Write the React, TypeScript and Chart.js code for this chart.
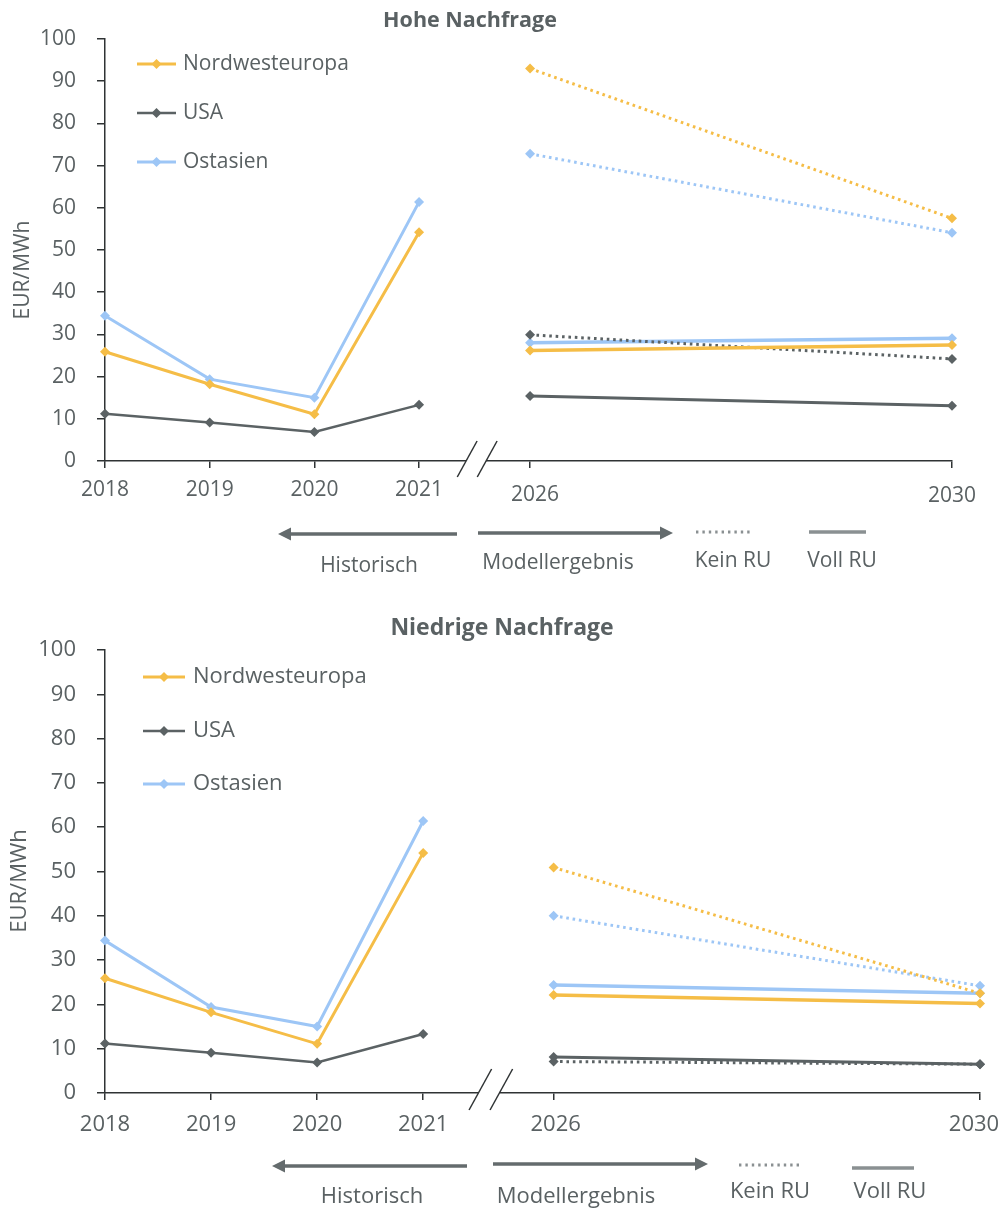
import { useEffect, useRef } from 'react';
import { Chart, registerables } from 'chart.js';

Chart.register(...registerables);

// ---- data -------------------------------------------------------------
const years = ['2018', '2019', '2020', '2021', '2026', '2030'];
const regions = ['Nordwesteuropa', 'USA', 'Ostasien'];

// historical prices 2018–2021 (EUR/MWh), identical in both scenarios
const nweHist = [25.9, 18.2, 11.1, 54.2];
const usaHist = [11.2, 9.1, 6.9, 13.3];
const ostHist = [34.4, 19.4, 15.0, 61.4];

// model results for 2026 and 2030 – high demand
const nweHighKein = [93.0, 57.5];
const usaHighKein = [29.9, 24.2];
const ostHighKein = [72.8, 54.1];
const nweHighVoll = [26.2, 27.5];
const usaHighVoll = [15.4, 13.1];
const ostHighVoll = [28.0, 29.1];

// model results for 2026 and 2030 – low demand
const nweLowKein = [50.9, 22.5];
const usaLowKein = [7.1, 6.5];
const ostLowKein = [40.0, 24.2];
const nweLowVoll = [22.1, 20.2];
const usaLowVoll = [8.1, 6.5];
const ostLowVoll = [24.4, 22.5];

const yTicks = [0, 10, 20, 30, 40, 50, 60, 70, 80, 90, 100];

// ---- styling ----------------------------------------------------------
const FONT = "'Open Sans', 'DejaVu Sans', sans-serif";
const TEXT = '#5a6163';
const AXIS = '#2f3334';
const ARROW = '#646b6d';
const KEY = '#8a9092';
const regionColors = ['#F5BD47', '#5B6264', '#9DC6F6'];
const regionWidths = [3, 2.5, 3];
const W = 1002;

type Xyz = [number, number, number];

interface Panel {
  title: string;
  kein: number[][];
  voll: number[][];
  height: number;
  font: number;
  titleFont: number;
  area: { top: number; bottom: number; right: number };
  slots: number[]; // horizontal slot of each year on the broken axis
  yearLabel: { y: number; dx: number[]; dy: number[] };
  titleAt: [number, number];
  yTitleAt: [number, number];
  legend: { x0: number; x1: number; textX: number; ys: number[] };
  slash: { gap: number; below: number; above: number; shift: number };
  histArrow: Xyz; // tail x, tip x, y
  modelArrow: Xyz;
  dottedKey: Xyz; // x0, x1, y
  solidKey: Xyz;
  notes: [string, number, number][];
}

const panels: Panel[] = [
  {
    title: 'Hohe Nachfrage',
    kein: [nweHighKein, usaHighKein, ostHighKein],
    voll: [nweHighVoll, usaHighVoll, ostHighVoll],
    height: 600,
    font: 21,
    titleFont: 21.5,
    area: { top: 39, bottom: 461, right: 952 },
    slots: [0, 1, 2, 3, 4.06, 8.09],
    yearLabel: { y: 29, dx: [0, 0, 0, 0, 5, 0], dy: [0, 0, 0, 0, 5, 6] },
    titleAt: [470, 21],
    yTitleAt: [23, 270],
    legend: { x0: 137, x1: 176, textX: 183, ys: [64, 113, 162] },
    slash: { gap: 20, below: 16, above: 20, shift: 1.5 },
    histArrow: [457, 278, 534],
    modelArrow: [478, 673, 533],
    dottedKey: [696, 752, 532],
    solidKey: [809, 866, 532],
    notes: [
      ['Historisch', 369, 566],
      ['Modellergebnis', 558, 563],
      ['Kein RU', 733, 561],
      ['Voll RU', 842, 561],
    ],
  },
  {
    title: 'Niedrige Nachfrage',
    kein: [nweLowKein, usaLowKein, ostLowKein],
    voll: [nweLowVoll, usaLowVoll, ostLowVoll],
    height: 609,
    font: 22,
    titleFont: 23,
    area: { top: 50, bottom: 493, right: 980 },
    slots: [0, 1, 2, 3, 4.23, 8.25],
    yearLabel: { y: 32, dx: [0, 0, 0, 0, 2, -6], dy: [0, 0, 0, 0, 0, 0] },
    titleAt: [502, 28],
    yTitleAt: [20, 281],
    legend: { x0: 143, x1: 185, textX: 193, ys: [77, 131, 184] },
    slash: { gap: 21, below: 17, above: 24, shift: 0.5 },
    histArrow: [467, 272, 566],
    modelArrow: [493, 708, 564],
    dottedKey: [739, 802, 565],
    solidKey: [852, 914, 568],
    notes: [
      ['Historisch', 372, 597],
      ['Modellergebnis', 576, 597],
      ['Kein RU', 770, 592],
      ['Voll RU', 890, 592],
    ],
  },
];

const hist = [nweHist, usaHist, ostHist];

function diamond(ctx: CanvasRenderingContext2D, x: number, y: number, r: number) {
  ctx.beginPath();
  ctx.moveTo(x, y - r);
  ctx.lineTo(x + r, y);
  ctx.lineTo(x, y + r);
  ctx.lineTo(x - r, y);
  ctx.closePath();
  ctx.fill();
}

function arrow(ctx: CanvasRenderingContext2D, tail: number, tip: number, y: number) {
  const dir = Math.sign(tip - tail);
  const head = 13;
  ctx.strokeStyle = ARROW;
  ctx.fillStyle = ARROW;
  ctx.lineWidth = 3.5;
  ctx.lineCap = 'butt';
  ctx.setLineDash([]);
  ctx.beginPath();
  ctx.moveTo(tail, y);
  ctx.lineTo(tip - dir * head, y);
  ctx.stroke();
  ctx.beginPath();
  ctx.moveTo(tip, y);
  ctx.lineTo(tip - dir * head, y - 6.5);
  ctx.lineTo(tip - dir * head, y + 6.5);
  ctx.closePath();
  ctx.fill();
}

function decorations(p: Panel) {
  return {
    id: 'decorations',
    afterDraw(chart: Chart) {
      const ctx = chart.ctx;
      const xs = chart.scales.x;
      const ys = chart.scales.y;
      ctx.save();

      // title
      ctx.fillStyle = TEXT;
      ctx.textAlign = 'center';
      ctx.textBaseline = 'middle';
      ctx.font = `bold ${p.titleFont}px ${FONT}`;
      ctx.fillText(p.title, p.titleAt[0], p.titleAt[1]);

      // year labels under the x ticks
      ctx.font = `${p.font}px ${FONT}`;
      years.forEach((label, i) => {
        const x = xs.getPixelForValue(p.slots[i]) + p.yearLabel.dx[i];
        const y = ys.bottom + p.yearLabel.y + p.yearLabel.dy[i];
        ctx.fillText(label, x, y);
      });

      // y axis title
      ctx.save();
      ctx.translate(p.yTitleAt[0], p.yTitleAt[1]);
      ctx.rotate(-Math.PI / 2);
      ctx.fillText('EUR/MWh', 0, 0);
      ctx.restore();

      // legend
      regions.forEach((name, i) => {
        const y = p.legend.ys[i];
        ctx.strokeStyle = regionColors[i];
        ctx.fillStyle = regionColors[i];
        ctx.lineWidth = regionWidths[i];
        ctx.setLineDash([]);
        ctx.beginPath();
        ctx.moveTo(p.legend.x0, y);
        ctx.lineTo(p.legend.x1, y);
        ctx.stroke();
        diamond(ctx, (p.legend.x0 + p.legend.x1) / 2, y, 5);
        ctx.fillStyle = TEXT;
        ctx.textAlign = 'left';
        ctx.textBaseline = 'middle';
        ctx.font = `${p.font}px ${FONT}`;
        ctx.fillText(name, p.legend.textX, y);
      });

      // broken axis between 2021 and 2026
      const axisY = ys.bottom;
      const mid =
        (xs.getPixelForValue(p.slots[3]) + xs.getPixelForValue(p.slots[4])) / 2 + p.slash.shift;
      const a = mid - p.slash.gap / 2;
      const b = mid + p.slash.gap / 2;
      ctx.fillStyle = '#ffffff';
      ctx.fillRect(a, axisY - 3, b - a, 6);
      ctx.strokeStyle = AXIS;
      ctx.lineWidth = 1.5;
      const lean = 0.55;
      [a, b].forEach((sx) => {
        ctx.beginPath();
        ctx.moveTo(sx - p.slash.below * lean, axisY + p.slash.below);
        ctx.lineTo(sx + p.slash.above * lean, axisY - p.slash.above);
        ctx.stroke();
      });

      // footer: period arrows and line-style key
      arrow(ctx, p.histArrow[0], p.histArrow[1], p.histArrow[2]);
      arrow(ctx, p.modelArrow[0], p.modelArrow[1], p.modelArrow[2]);

      ctx.strokeStyle = KEY;
      ctx.lineWidth = 3;
      ctx.setLineDash([2.4, 4]);
      ctx.beginPath();
      ctx.moveTo(p.dottedKey[0], p.dottedKey[2]);
      ctx.lineTo(p.dottedKey[1], p.dottedKey[2]);
      ctx.stroke();
      ctx.setLineDash([]);
      ctx.lineWidth = 3.5;
      ctx.beginPath();
      ctx.moveTo(p.solidKey[0], p.solidKey[2]);
      ctx.lineTo(p.solidKey[1], p.solidKey[2]);
      ctx.stroke();

      ctx.fillStyle = TEXT;
      ctx.textAlign = 'center';
      ctx.textBaseline = 'middle';
      ctx.font = `${p.font}px ${FONT}`;
      p.notes.forEach(([t, x, y]) => ctx.fillText(t, x, y));

      ctx.restore();
    },
  };
}

function buildDatasets(p: Panel) {
  const sets: any[] = [];
  const style = (i: number, dashed: boolean, width: number) => ({
    borderColor: regionColors[i],
    backgroundColor: regionColors[i],
    pointBackgroundColor: regionColors[i],
    borderWidth: width,
    borderDash: dashed ? [2.6, 3.8] : [],
    borderCapStyle: 'butt',
    pointStyle: 'rectRot',
    pointRadius: 5,
    pointBorderWidth: 0,
    tension: 0,
    fill: false,
    clip: false,
  });
  regions.forEach((name, i) => {
    sets.push({
      label: name,
      data: hist[i].map((v, k) => ({ x: p.slots[k], y: v })),
      ...style(i, false, regionWidths[i]),
    });
    sets.push({
      label: `${name} – Kein RU`,
      data: p.kein[i].map((v, k) => ({ x: p.slots[4 + k], y: v })),
      ...style(i, true, 3),
    });
    sets.push({
      label: `${name} – Voll RU`,
      data: p.voll[i].map((v, k) => ({ x: p.slots[4 + k], y: v })),
      ...style(i, false, i === 1 ? 3 : 3.5),
    });
  });
  return sets;
}

function PanelChart({ p }: { p: Panel }) {
  const ref = useRef<HTMLCanvasElement | null>(null);

  useEffect(() => {
    if (!ref.current) return;
    const chart = new Chart(ref.current, {
      type: 'line',
      data: { datasets: buildDatasets(p) },
      options: {
        animation: false,
        responsive: false,
        maintainAspectRatio: false,
        layout: { padding: { left: 0, top: p.area.top, right: W - p.area.right, bottom: 0 } },
        plugins: {
          legend: { display: false },
          tooltip: { enabled: false },
          title: { display: false },
        },
        scales: {
          x: {
            type: 'linear',
            min: 0,
            max: p.slots[p.slots.length - 1],
            afterBuildTicks: (s: any) => {
              s.ticks = p.slots.map((v) => ({ value: v }));
            },
            afterFit: (s: any) => {
              s.height = p.height - p.area.bottom;
              s.paddingLeft = 0;
              s.paddingRight = 0;
            },
            border: { display: true, color: AXIS, width: 1.5 },
            grid: {
              display: true,
              drawOnChartArea: false,
              drawTicks: true,
              tickLength: 7,
              color: AXIS,
              lineWidth: 1.5,
            },
            ticks: { display: false, autoSkip: false, maxRotation: 0 },
          },
          y: {
            min: 0,
            max: 100,
            afterBuildTicks: (s: any) => {
              s.ticks = yTicks.map((v) => ({ value: v }));
            },
            afterFit: (s: any) => {
              s.width = 105;
              s.paddingTop = 0;
              s.paddingBottom = 0;
            },
            border: { display: true, color: AXIS, width: 1.5 },
            grid: {
              display: true,
              drawOnChartArea: false,
              drawTicks: true,
              tickLength: 8,
              color: AXIS,
              lineWidth: 1.5,
            },
            ticks: {
              padding: 21,
              color: TEXT,
              font: { family: FONT, size: p.font },
            },
          },
        },
      },
      plugins: [decorations(p)],
    } as any);
    return () => chart.destroy();
  }, [p]);

  return <canvas ref={ref} width={W} height={p.height} style={{ display: 'block' }} />;
}

export default function App() {
  return (
    <div
      style={{
        position: 'absolute',
        left: 0,
        top: 0,
        width: W,
        height: 1209,
        background: '#ffffff',
        overflow: 'hidden',
      }}
    >
      {panels.map((p) => (
        <PanelChart key={p.title} p={p} />
      ))}
    </div>
  );
}
